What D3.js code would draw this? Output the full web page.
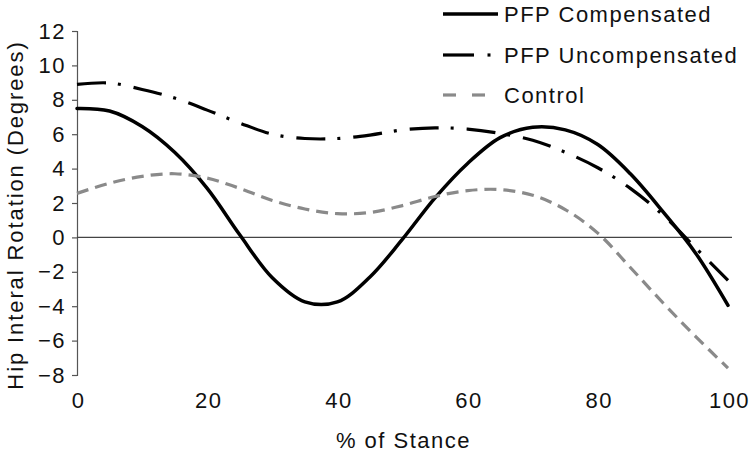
<!DOCTYPE html>
<html>
<head>
<meta charset="utf-8">
<script src="https://cdn.jsdelivr.net/npm/d3@7"></script>
<style>
  html, body { margin: 0; padding: 0; background: #fff; }
  svg { display: block; font-family: "Liberation Sans", Arial, sans-serif; }
  text { letter-spacing: 1.5px; }
</style>
</head>
<body>
<svg id="chart" width="751" height="452"></svg>
<script>
// ---- data ----
const stance = [0,5,10,15,20,25,30,35,40,45,50,55,60,65,70,75,80,85,90,95,100];
const pfpCompensated   = [7.5,7.35,6.45,4.95,2.85,0.15,-2.35,-3.75,-3.75,-2.3,-0.1,2.3,4.3,5.8,6.4,6.25,5.4,3.7,1.5,-0.9,-3.95];
const pfpUncompensated = [8.9,8.98,8.6,8.1,7.4,6.65,6.0,5.75,5.75,5.95,6.25,6.37,6.3,6.05,5.65,4.95,4.05,2.85,1.3,-0.6,-2.5];
const control          = [2.56,3.15,3.55,3.7,3.45,2.85,2.15,1.65,1.38,1.45,1.85,2.38,2.72,2.78,2.45,1.62,0.25,-1.75,-3.8,-5.75,-7.6];
const xTicks = [0,20,40,60,80,100];
const yTicks = [-8,-6,-4,-2,0,2,4,6,8,10,12];
const seriesNames = ["PFP Compensated","PFP Uncompensated","Control"];

const FS = 22;
const svg = d3.select("#chart");
const x = d3.scaleLinear().domain([0,100]).range([77,728]);
const y = d3.scaleLinear().domain([-8,12]).range([375,31]);

// y axis
const yAxis = d3.axisLeft(y).tickValues(yTicks).tickSize(5).tickPadding(6).tickFormat(d3.format("d"));
const gy = svg.append("g").attr("transform","translate(77,0)").call(yAxis);
gy.select(".domain").attr("stroke","#555").attr("stroke-width",1.2);
gy.selectAll(".tick line").attr("stroke","#555").attr("stroke-width",1.2);
gy.selectAll(".tick text").attr("font-size",FS).attr("fill","#111")
  .attr("font-family","Liberation Sans, Arial, sans-serif");

// x axis (labels only)
const xAxis = d3.axisBottom(x).tickValues(xTicks).tickSize(0).tickPadding(0).tickFormat(d3.format("d"));
const gx = svg.append("g").attr("transform","translate(1,392)").call(xAxis);
gx.select(".domain").remove();
gx.selectAll(".tick text").attr("font-size",FS).attr("fill","#111")
  .attr("font-family","Liberation Sans, Arial, sans-serif");

// zero line
svg.append("line").attr("x1",x(0)).attr("x2",732).attr("y1",y(0)).attr("y2",y(0))
  .attr("stroke","#444").attr("stroke-width",1.2);

// axis titles
svg.append("text").attr("x",(x(0)+x(100))/2 + 1).attr("y",448).attr("text-anchor","middle")
  .attr("font-size",FS).attr("fill","#111").text("% of Stance");
svg.append("text").attr("transform","translate(22.5,215) rotate(-90)").attr("text-anchor","middle")
  .attr("font-size",FS).attr("fill","#111").style("letter-spacing","1.9px").text("Hip Interal Rotation (Degrees)");

// lines
const styles = [
  {data: pfpCompensated, stroke:"#000", width:3.5, dash:null},
  {data: pfpUncompensated, stroke:"#000", width:3.2, dash:"29,12,3,13"},
  {data: control, stroke:"#8a8a8a", width:3.2, dash:"12,7"}
];
const line = d3.line().x(d => x(d[0])).y(d => y(d[1])).curve(d3.curveCatmullRom.alpha(0.5));
styles.forEach(s => {
  svg.append("path")
    .datum(stance.map((p,i) => [p, s.data[i]]))
    .attr("d", line)
    .attr("fill","none")
    .attr("stroke", s.stroke)
    .attr("stroke-width", s.width)
    .attr("stroke-dasharray", s.dash)
    .attr("stroke-linecap", s.dash ? "butt" : "round");
});

// legend
const legY = [14, 55, 95];
const leg = svg.append("g");
seriesNames.forEach((name, i) => {
  const s = styles[i];
  const ly = legY[i];
  if (i === 0) {
    leg.append("line").attr("x1",443).attr("x2",498).attr("y1",ly).attr("y2",ly)
      .attr("stroke",s.stroke).attr("stroke-width",s.width);
  } else if (i === 1) {
    leg.append("line").attr("x1",443).attr("x2",474).attr("y1",ly).attr("y2",ly)
      .attr("stroke",s.stroke).attr("stroke-width",s.width);
    leg.append("line").attr("x1",487.5).attr("x2",490.5).attr("y1",ly).attr("y2",ly)
      .attr("stroke",s.stroke).attr("stroke-width",s.width);
  } else {
    leg.append("line").attr("x1",443).attr("x2",456).attr("y1",ly).attr("y2",ly)
      .attr("stroke",s.stroke).attr("stroke-width",s.width);
    leg.append("line").attr("x1",472).attr("x2",485).attr("y1",ly).attr("y2",ly)
      .attr("stroke",s.stroke).attr("stroke-width",s.width);
  }
  leg.append("text").attr("x",504).attr("y",ly+8).attr("font-size",FS).attr("fill","#111").text(name);
});
</script>
</body>
</html>
